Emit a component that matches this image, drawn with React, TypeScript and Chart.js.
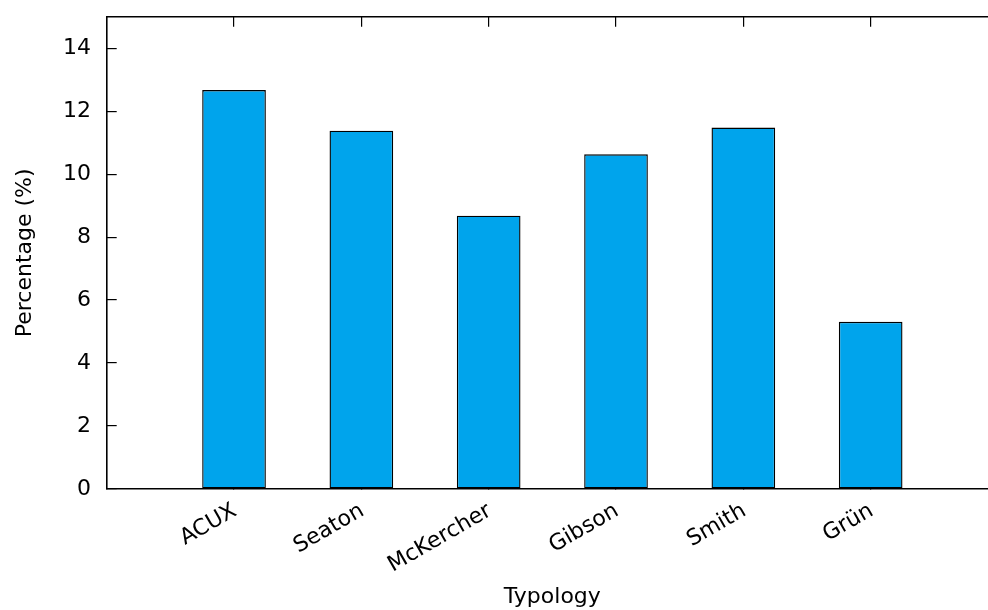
import React, { useEffect, useRef } from "react";
import { Chart, registerables } from "chart.js";

Chart.register(...registerables);

const categories = ["ACUX", "Seaton", "McKercher", "Gibson", "Smith", "Grün"];
const percentages = [12.67, 11.38, 8.68, 10.63, 11.48, 5.31];
const yTickStep = 2;

const FONT = "'DejaVu Sans', sans-serif";

function keepCategoryTicks(scale: any) {
  scale.ticks = scale.ticks.filter(
    (t: any) => t.value >= 0 && t.value < categories.length && Number.isInteger(t.value)
  );
}

function zeroPadding(s: any) {
  s.paddingTop = 0;
  s.paddingBottom = 0;
  s.paddingLeft = 0;
  s.paddingRight = 0;
}

export default function App() {
  const ref = useRef<HTMLCanvasElement | null>(null);

  useEffect(() => {
    if (!ref.current) return;
    const chart = new Chart(ref.current, {
      type: "bar",
      data: {
        datasets: [
          {
            data: categories.map((_, i) => ({ x: i, y: percentages[i] })),
            backgroundColor: "rgb(0,164,236)",
            borderColor: "#000000",
            borderWidth: 1.4,
            borderSkipped: false,
            barPercentage: 0.5,
            categoryPercentage: 1.0,
          },
        ],
      },
      options: {
        animation: false,
        responsive: false,
        maintainAspectRatio: false,
        layout: { padding: { left: 0, top: 16.7, right: 2, bottom: 0 } },
        plugins: {
          legend: { display: false },
          tooltip: { enabled: false },
        },
        scales: {
          x: {
            type: "linear",
            position: "bottom",
            min: -1,
            max: 6,
            offset: false,
            afterBuildTicks: keepCategoryTicks,
            afterFit: (s: any) => {
              s.height = 121;
              zeroPadding(s);
            },
            ticks: {
              stepSize: 1,
              autoSkip: false,
              minRotation: 30,
              maxRotation: 30,
              padding: 19,
              labelOffset: 1,
              color: "#000",
              font: { family: FONT, size: 22 },
              callback: (v: any) => categories[v as number] ?? "",
            },
            grid: {
              display: true,
              drawOnChartArea: false,
              drawTicks: true,
              tickLength: -10,
              offset: false,
              color: "#000",
              lineWidth: 1.2,
            },
            border: { display: true, color: "#000", width: 1.6 },
            title: {
              display: true,
              text: "Typology",
              color: "#000",
              font: { family: FONT, size: 22 },
              padding: { top: 0, bottom: 0 },
            },
          },
          xTop: {
            type: "linear",
            position: "top",
            min: -1,
            max: 6,
            offset: false,
            afterBuildTicks: keepCategoryTicks,
            afterFit: (s: any) => {
              s.height = 0;
              zeroPadding(s);
            },
            ticks: { display: false, stepSize: 1, autoSkip: false },
            grid: {
              display: true,
              drawOnChartArea: false,
              drawTicks: true,
              tickLength: -10,
              offset: false,
              color: "#000",
              lineWidth: 1.2,
            },
            border: { display: true, color: "#000", width: 1.6 },
          },
          y: {
            type: "linear",
            position: "left",
            min: 0,
            max: 15,
            afterFit: (s: any) => {
              s.width = 106.7;
              zeroPadding(s);
            },
            ticks: {
              stepSize: yTickStep,
              includeBounds: false,
              padding: 25.7,
              color: "#000",
              font: { family: FONT, size: 22 },
            },
            grid: {
              display: true,
              drawOnChartArea: false,
              drawTicks: true,
              tickLength: -10,
              color: "#000",
              lineWidth: 1.2,
            },
            border: { display: true, color: "#000", width: 1.6 },
            title: {
              display: true,
              text: "Percentage (%)",
              color: "#000",
              font: { family: FONT, size: 22 },
              padding: { top: 12, bottom: 0 },
            },
          },
        },
      },
    });
    return () => chart.destroy();
  }, []);

  return (
    <div
      style={{
        position: "fixed",
        left: 0,
        top: 0,
        width: 988,
        height: 610,
        overflow: "hidden",
        background: "#fff",
      }}
    >
      <canvas
        ref={ref}
        width={1000}
        height={610}
        style={{ width: 1000, height: 610, display: "block" }}
      />
    </div>
  );
}
